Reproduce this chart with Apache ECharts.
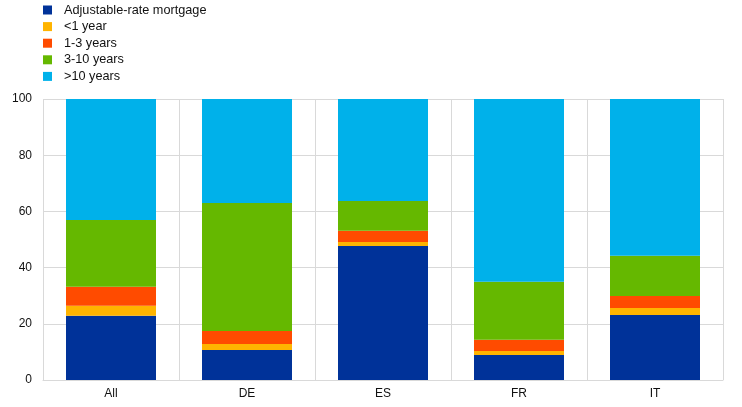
<!DOCTYPE html>
<html><head><meta charset="utf-8">
<script src="https://cdn.jsdelivr.net/npm/echarts@6/dist/echarts.min.js"></script>
<style>html,body{margin:0;padding:0;background:#fff}#c{width:742px;height:407px}</style>
</head><body><div id="c"></div>
<script>
const categories = ['All', 'DE', 'ES', 'FR', 'IT'];
const seriesNames = ['Adjustable-rate mortgage', '<1 year', '1-3 years', '3-10 years', '>10 years'];
const adjustable = [22.9, 10.7, 47.7, 8.9, 23.1];
const lessThan1 = [3.5, 2.1, 1.4, 1.4, 2.5];
const oneToThree = [6.8, 4.6, 4.0, 4.0, 4.3];
const threeToTen = [23.7, 45.6, 10.6, 20.7, 14.3];
const moreThan10 = [43.1, 37.0, 36.3, 65.0, 55.8];
const colors = ['#003299', '#FFB400', '#FF4B00', '#65B800', '#00B1EA'];
const yTicks = [0, 20, 40, 60, 80, 100];

const dataSets = [adjustable, lessThan1, oneToThree, threeToTen, moreThan10];
const chart = echarts.init(document.getElementById('c'));
chart.setOption({
  animation: false,
  textStyle: { fontFamily: 'Liberation Sans, Arial, sans-serif' },
  legend: {
    orient: 'vertical', left: 43, top: 3, padding: 0,
    itemWidth: 9, itemHeight: 9, itemGap: 2.6, icon: 'rect',
    textStyle: { fontSize: 12.7, color: '#111', lineHeight: 14, padding: [0, 0, 0, 7] },
    data: seriesNames
  },
  grid: { left: 43, right: 19, top: 99, bottom: 27 },
  xAxis: {
    type: 'category', data: categories,
    axisLine: { lineStyle: { color: '#d9d9d9' } },
    axisTick: { show: false },
    axisLabel: { color: '#111', fontSize: 12, margin: 8 },
    splitLine: { show: true, lineStyle: { color: '#d9d9d9' } }
  },
  yAxis: {
    type: 'value', min: yTicks[0], max: yTicks[yTicks.length - 1], interval: 20,
    axisLine: { show: false }, axisTick: { show: false },
    axisLabel: { color: '#111', fontSize: 12, margin: 11 },
    splitLine: { lineStyle: { color: '#d9d9d9' } }
  },
  series: seriesNames.map((n, i) => ({
    name: n, type: 'bar', stack: 'total', barWidth: 90,
    itemStyle: { color: colors[i] },
    data: dataSets[i]
  }))
});
</script></body></html>
